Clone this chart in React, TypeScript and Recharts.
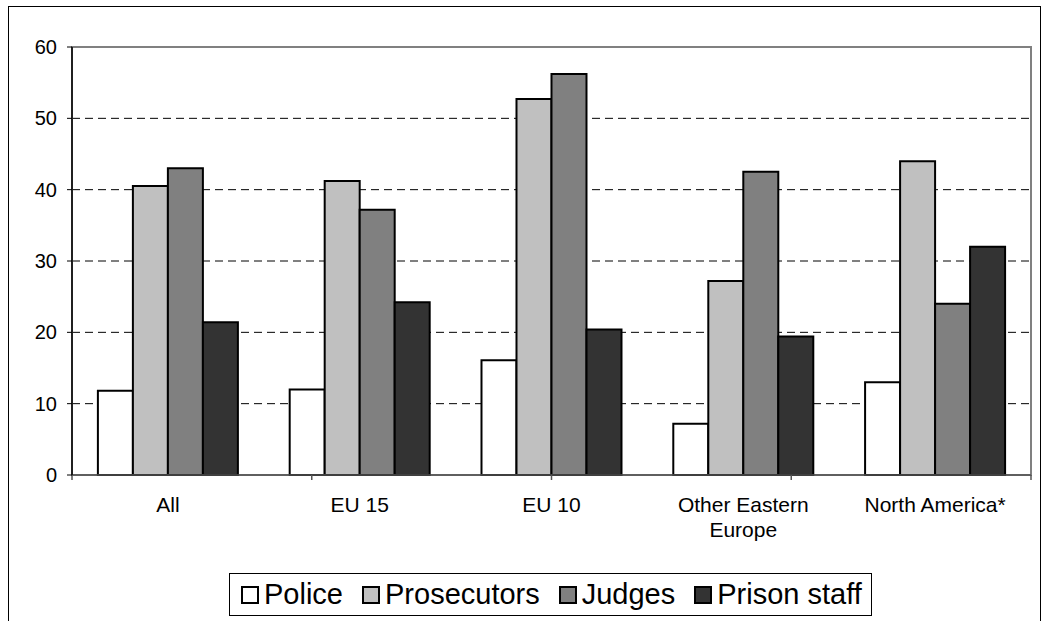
import React from "react";
import {
  BarChart,
  Bar,
  XAxis,
  YAxis,
  CartesianGrid,
  ReferenceArea,
  Legend,
} from "recharts";

const categories = ["All", "EU 15", "EU 10", "Other Eastern Europe", "North America*"];
const categoryLabelLines = [["All"], ["EU 15"], ["EU 10"], ["Other Eastern", "Europe"], ["North America*"]];
const police = [11.8, 12.0, 16.1, 7.2, 13.0];
const prosecutors = [40.5, 41.2, 52.7, 27.2, 44.0];
const judges = [43.0, 37.2, 56.2, 42.5, 24.0];
const prisonStaff = [21.4, 24.2, 20.4, 19.4, 32.0];
const yTicks = [0, 10, 20, 30, 40, 50, 60];
const boundaryTicks = [0, 1, 2, 3, 4, 5];

const seriesInfo = [
  { key: "police", name: "Police", color: "#ffffff" },
  { key: "prosecutors", name: "Prosecutors", color: "#c0c0c0" },
  { key: "judges", name: "Judges", color: "#808080" },
  { key: "prison", name: "Prison staff", color: "#333333" },
];

const data = categories.map((c, i) => ({
  name: c,
  police: police[i],
  prosecutors: prosecutors[i],
  judges: judges[i],
  prison: prisonStaff[i],
}));

const FONT = "'Liberation Sans', Arial, Helvetica, sans-serif";

const XTick = (props: any) => {
  const { x, y, payload } = props;
  const idx = categories.indexOf(payload.value);
  const lines = idx >= 0 ? categoryLabelLines[idx] : [String(payload.value)];
  return (
    <text
      x={x}
      y={y + 21}
      textAnchor="middle"
      fontSize={21}
      fontFamily={FONT}
      fill="#000"
    >
      {lines.map((l, i) => (
        <tspan key={i} x={x} dy={i === 0 ? "0.71em" : 25}>
          {l}
        </tspan>
      ))}
    </text>
  );
};

const EmptyTick = () => <g />;

const LegendBox = () => (
  <div
    style={{
      display: "inline-flex",
      alignItems: "center",
      border: "1px solid #000",
      background: "#fff",
      height: 43,
      boxSizing: "border-box",
      padding: "0 9px 0 11px",
      fontFamily: FONT,
      fontSize: 29,
      color: "#000",
      whiteSpace: "nowrap",
      lineHeight: 1,
    }}
  >
    {seriesInfo.map((s, i) => (
      <span
        key={s.key}
        style={{ display: "inline-flex", alignItems: "center", marginLeft: i ? 19 : 0 }}
      >
        <span
          style={{
            width: 18,
            height: 18,
            boxSizing: "border-box",
            border: "2px solid #000",
            background: s.color,
            marginRight: 5,
            display: "inline-block",
          }}
        />
        <span>{s.name}</span>
      </span>
    ))}
  </div>
);

export default function App() {
  return (
    <div
      style={{
        position: "fixed",
        left: 8,
        top: 6,
        width: 1033,
        height: 620,
        border: "1px solid #000",
        boxSizing: "border-box",
        background: "#fff",
      }}
    >
      <BarChart
        width={1031}
        height={614}
        data={data}
        margin={{ top: 40, right: 9, bottom: 86, left: 3 }}
        barCategoryGap="13.5%"
        barGap={0}
      >
        <CartesianGrid
          xAxisId="b"
          vertical={false}
          stroke="#000"
          strokeDasharray="8 5"
        />
        <XAxis
          xAxisId="b"
          dataKey="name"
          height={59}
          interval={0}
          axisLine={false}
          tickLine={false}
          tickSize={0}
          tickMargin={0}
          tick={<XTick />}
        />
        <XAxis
          xAxisId="a"
          type="number"
          domain={[0, 5]}
          ticks={boundaryTicks}
          interval={0}
          tick={<EmptyTick />}
          tickSize={5}
          height={1}
          axisLine={{ stroke: "#555", strokeWidth: 1.5 }}
          tickLine={{ stroke: "#555", strokeWidth: 1.5 }}
        />
        <YAxis
          width={60}
          domain={[0, 60]}
          ticks={yTicks}
          interval={0}
          tickSize={5}
          tickMargin={10}
          axisLine={{ stroke: "#000", strokeWidth: 1.5 }}
          tickLine={{ stroke: "#000" }}
          tick={{ fontSize: 20, fill: "#000", fontFamily: FONT }}
        />
        <ReferenceArea
          xAxisId="b"
          y1={0}
          y2={60}
          fill="none"
          stroke="#808080"
          strokeWidth={2}
        />
        {seriesInfo.map((s) => (
          <Bar
            key={s.key}
            xAxisId="b"
            dataKey={s.key}
            name={s.name}
            fill={s.color}
            stroke="#000"
            strokeWidth={2}
            isAnimationActive={false}
          />
        ))}
        <Legend
          layout="horizontal"
          verticalAlign="middle"
          align="center"
          content={<LegendBox />}
          wrapperStyle={{ position: "absolute", left: 220, top: 566, width: "auto" }}
        />
      </BarChart>
    </div>
  );
}
